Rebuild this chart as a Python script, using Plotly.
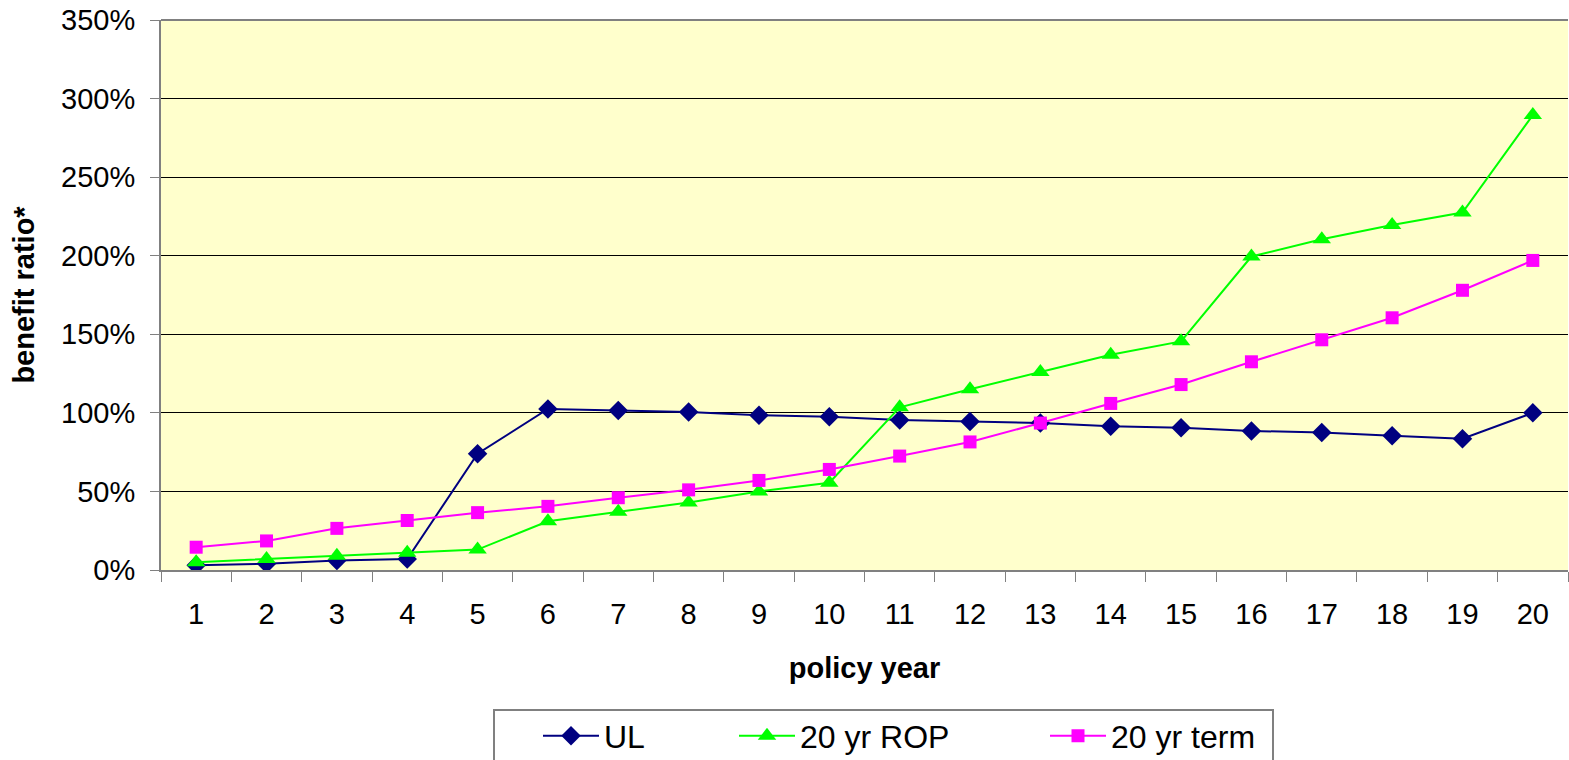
import plotly.graph_objects as go

# policy years on the category axis
years = [str(y) for y in range(1, 21)]

# benefit ratio (%) by policy year
ul = [3, 4, 6, 7, 74, 102.5, 101.5, 100.5, 98.5, 97.5,
      95.5, 94.5, 93.5, 91.5, 90.5, 88.5, 87.5, 85.5, 83.5, 100]
rop_20yr = [5, 7, 9, 11, 13, 31, 37, 43, 50, 55.5,
            103.5, 115, 126, 137, 145.5, 199.5, 210.5, 219.5, 227.5, 289.5]
term_20yr = [14.5, 18.5, 26.5, 31.5, 36.5, 40.5, 46, 51, 57, 64,
             72.5, 81.5, 93.5, 106, 118, 132.5, 146.5, 160.5, 178, 197]

y_ticks = [0, 50, 100, 150, 200, 250, 300, 350]
y_tick_labels = [f"{v}%" for v in y_ticks]

FONT = "Arial, Liberation Sans, sans-serif"

series = [
    ("UL", ul, "#000080", "diamond", 15, "legend"),
    ("20 yr ROP", rop_20yr, "#00FF00", "triangle-up", 16, "legend2"),
    ("20 yr term", term_20yr, "#FF00FF", "square", 13, "legend3"),
]

fig = go.Figure()
for name, vals, color, symbol, size, leg in series:
    fig.add_trace(go.Scatter(
        x=years, y=vals, name=name, mode="lines+markers",
        line=dict(color=color, width=2),
        marker=dict(symbol=symbol, size=size, color=color,
                    line=dict(width=0)),
        legend=leg,
    ))

# plot area spans 1407 x 550 px; legend anchors are given in pixels from its left edge
PW, PH = 1407, 550

legend_common = dict(
    orientation="h", bgcolor="rgba(0,0,0,0)", borderwidth=0,
    font=dict(family=FONT, size=32, color="#000000"),
    xanchor="left", yanchor="middle", y=-166 / PH, itemwidth=56,
)

fig.update_layout(
    width=1569, height=760,
    margin=dict(l=161, r=1, t=20, b=190, autoexpand=False),
    paper_bgcolor="#FFFFFF",
    plot_bgcolor="#FFFFCC",
    font=dict(family=FONT, size=29, color="#000000"),
    showlegend=True,
    legend=dict(x=(538 - 161) / PW, **legend_common),
    legend2=dict(x=(734 - 161) / PW, **legend_common),
    legend3=dict(x=(1045 - 161) / PW, **legend_common),
    xaxis=dict(
        type="category", categoryorder="array", categoryarray=years,
        tickson="boundaries", ticks="outside", ticklen=10, tickwidth=1,
        tickcolor="#808080", showline=True, linecolor="#808080", linewidth=2,
        showgrid=False, ticklabelstandoff=17,
        title=dict(text="<b>policy year</b>", font=dict(size=29), standoff=29),
        range=[-0.5, 19.5],
    ),
    yaxis=dict(
        range=[0, 350], tickvals=y_ticks, ticktext=y_tick_labels,
        ticks="outside", ticklen=9, tickwidth=1, tickcolor="#808080",
        showline=True, linecolor="#808080", linewidth=2,
        showgrid=True, gridcolor="#000000", gridwidth=1,
        zeroline=False, ticklabelstandoff=9,
        title=dict(text="<b>benefit ratio*</b>", font=dict(size=29), standoff=18),
    ),
    shapes=[
        dict(type="rect", xref="paper", yref="paper",
             x0=(494 - 161) / PW, x1=(1273 - 161) / PW,
             y0=-0.42, y1=-140 / PH,
             line=dict(color="#808080", width=2), fillcolor="rgba(0,0,0,0)",
             layer="above"),
        dict(type="line", xref="paper", yref="paper", x0=0, x1=1, y0=1, y1=1,
             line=dict(color="#808080", width=2)),
    ],
)

fig.write_html("out.html")
